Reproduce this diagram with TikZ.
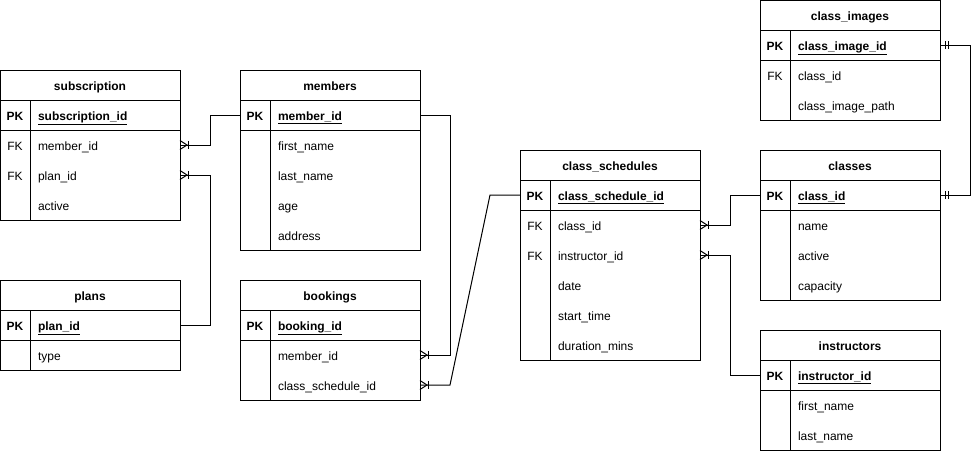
\documentclass[tikz,border=0pt]{standalone}
\usepackage{fontspec}
\setmainfont{Liberation Sans}
\usetikzlibrary{positioning}
\tikzset{%
	tabtitle/.style={draw, minimum width=180pt, minimum height=30pt, inner sep=0pt, outer sep=0pt,%
		text height=11pt, text depth=1pt, font=\fontsize{12pt}{14pt}\selectfont\bfseries},
	keycell/.style={anchor=north west, minimum width=30pt, minimum height=30pt, inner sep=0pt,%
		outer sep=0pt, text height=11pt, text depth=1pt, font=\fontsize{12pt}{14pt}\selectfont},
	fieldcell/.style={minimum height=30pt, text width=134pt, inner xsep=8pt, inner ysep=0pt,%
		outer sep=0pt, text height=11pt, text depth=1pt, align=left, font=\fontsize{12pt}{14pt}\selectfont},
	frame/.style={draw},
	rel/.style={draw},
	manyend/.pic={\draw (0,-4.5) -- (7,0) -- (0,4.5); \draw (8,-4) -- (8,4);},
	oneend/.pic={\draw (5,-4) -- (5,4); \draw (8,-4) -- (8,4);}
}
\newcommand{\pkey}[1]{\textbf{\underline{#1}}}
\begin{document}
\begin{tikzpicture}[x=1pt, y=-1pt, line width=1pt]
	\useasboundingbox (0,0) rectangle (980,451);

	% subscription
	\node[tabtitle] (sub) at (90,85) {subscription};
	\foreach \k/\f [count=\i from 0] in {\textbf{PK}/\pkey{subscription\_id}, FK/member\_id, FK/plan\_id, {}/active}{
		\node[keycell] (sub-k\i) at ([yshift=-30*\i]sub.south west) {\k};
		\node[fieldcell, right=0pt of sub-k\i] (sub-\i) {\f};
	}
	\draw[frame] (sub.north west) rectangle (sub-3.south east);
	\draw[frame] (sub-k0.south west) -- (sub-0.south east);
	\draw[frame] (sub-k0.north east) -- (sub-k3.south east);

	% members
	\node[tabtitle] (mem) at (330,85) {members};
	\foreach \k/\f [count=\i from 0] in {\textbf{PK}/\pkey{member\_id}, {}/first\_name, {}/last\_name, {}/age, {}/address}{
		\node[keycell] (mem-k\i) at ([yshift=-30*\i]mem.south west) {\k};
		\node[fieldcell, right=0pt of mem-k\i] (mem-\i) {\f};
	}
	\draw[frame] (mem.north west) rectangle (mem-4.south east);
	\draw[frame] (mem-k0.south west) -- (mem-0.south east);
	\draw[frame] (mem-k0.north east) -- (mem-k4.south east);

	% plans
	\node[tabtitle] (plan) at (90,295) {plans};
	\foreach \k/\f [count=\i from 0] in {\textbf{PK}/\pkey{plan\_id}, {}/type}{
		\node[keycell] (plan-k\i) at ([yshift=-30*\i]plan.south west) {\k};
		\node[fieldcell, right=0pt of plan-k\i] (plan-\i) {\f};
	}
	\draw[frame] (plan.north west) rectangle (plan-1.south east);
	\draw[frame] (plan-k0.south west) -- (plan-0.south east);
	\draw[frame] (plan-k0.north east) -- (plan-k1.south east);

	% bookings
	\node[tabtitle] (book) at (330,295) {bookings};
	\foreach \k/\f [count=\i from 0] in {\textbf{PK}/\pkey{booking\_id}, {}/member\_id, {}/class\_schedule\_id}{
		\node[keycell] (book-k\i) at ([yshift=-30*\i]book.south west) {\k};
		\node[fieldcell, right=0pt of book-k\i] (book-\i) {\f};
	}
	\draw[frame] (book.north west) rectangle (book-2.south east);
	\draw[frame] (book-k0.south west) -- (book-0.south east);
	\draw[frame] (book-k0.north east) -- (book-k2.south east);

	% class_schedules
	\node[tabtitle] (sched) at (610,165) {class\_schedules};
	\foreach \k/\f [count=\i from 0] in {\textbf{PK}/\pkey{class\_schedule\_id}, FK/class\_id, FK/instructor\_id, {}/date, {}/start\_time, {}/duration\_mins}{
		\node[keycell] (sched-k\i) at ([yshift=-30*\i]sched.south west) {\k};
		\node[fieldcell, right=0pt of sched-k\i] (sched-\i) {\f};
	}
	\draw[frame] (sched.north west) rectangle (sched-5.south east);
	\draw[frame] (sched-k0.south west) -- (sched-0.south east);
	\draw[frame] (sched-k0.north east) -- (sched-k5.south east);

	% class_images
	\node[tabtitle] (img) at (850,15) {class\_images};
	\foreach \k/\f [count=\i from 0] in {\textbf{PK}/\pkey{class\_image\_id}, FK/class\_id, {}/class\_image\_path}{
		\node[keycell] (img-k\i) at ([yshift=-30*\i]img.south west) {\k};
		\node[fieldcell, right=0pt of img-k\i] (img-\i) {\f};
	}
	\draw[frame] (img.north west) rectangle (img-2.south east);
	\draw[frame] (img-k0.south west) -- (img-0.south east);
	\draw[frame] (img-k0.north east) -- (img-k2.south east);

	% classes
	\node[tabtitle] (cls) at (850,165) {classes};
	\foreach \k/\f [count=\i from 0] in {\textbf{PK}/\pkey{class\_id}, {}/name, {}/active, {}/capacity}{
		\node[keycell] (cls-k\i) at ([yshift=-30*\i]cls.south west) {\k};
		\node[fieldcell, right=0pt of cls-k\i] (cls-\i) {\f};
	}
	\draw[frame] (cls.north west) rectangle (cls-3.south east);
	\draw[frame] (cls-k0.south west) -- (cls-0.south east);
	\draw[frame] (cls-k0.north east) -- (cls-k3.south east);

	% instructors
	\node[tabtitle] (inst) at (850,345) {instructors};
	\foreach \k/\f [count=\i from 0] in {\textbf{PK}/\pkey{instructor\_id}, {}/first\_name, {}/last\_name}{
		\node[keycell] (inst-k\i) at ([yshift=-30*\i]inst.south west) {\k};
		\node[fieldcell, right=0pt of inst-k\i] (inst-\i) {\f};
	}
	\draw[frame] (inst.north west) rectangle (inst-2.south east);
	\draw[frame] (inst-k0.south west) -- (inst-0.south east);
	\draw[frame] (inst-k0.north east) -- (inst-k2.south east);

	% relations
	\draw[rel] (sub-1.east) -- ++(30,0) |- (mem-k0.west);
	\draw[rel] (sub-2.east) -- ++(30,0) |- (plan-0.east);
	\draw[rel] (mem-0.east) -- ++(30,0) |- (book-1.east);
	\draw[rel] (book-2.east) -- ++(30,0) -- ([xshift=-30pt]sched-k0.west) -- (sched-k0.west);
	\draw[rel] (sched-1.east) -- ++(30,0) |- (cls-k0.west);
	\draw[rel] (sched-2.east) -- ++(30,0) |- (inst-k0.west);
	\draw[rel] (img-0.east) -- ++(30,0) |- (cls-0.east);

	\pic at (sub-1.east) {manyend};
	\pic at (sub-2.east) {manyend};
	\pic at (book-1.east) {manyend};
	\pic at (book-2.east) {manyend};
	\pic at (sched-1.east) {manyend};
	\pic at (sched-2.east) {manyend};
	\pic at (img-0.east) {oneend};
	\pic at (cls-0.east) {oneend};
\end{tikzpicture}
\end{document}
